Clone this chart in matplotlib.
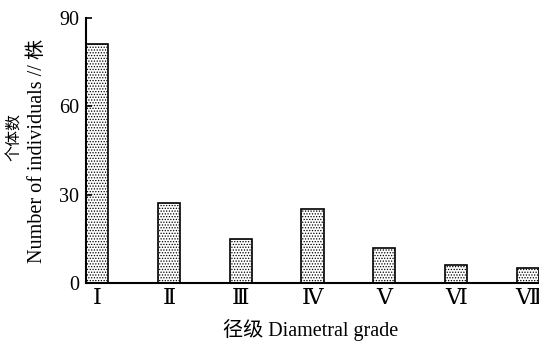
import matplotlib
matplotlib.use('Agg')
import matplotlib.pyplot as plt

# diameter classes and number of individuals
grades = ['\u2160', '\u2161', '\u2162', '\u2163', '\u2164', '\u2165', '\u2166']
counts = [81, 27, 15, 25, 12, 6, 5]
yticks = [0, 30, 60, 90]

plt.rcParams['hatch.linewidth'] = 0.6
plt.rcParams['hatch.color'] = '#555555'

serif = ['Liberation Serif', 'DejaVu Serif', 'Noto Sans CJK SC']
mixed = ['Liberation Serif', 'Noto Sans CJK SC']

fig = plt.figure(figsize=(5.39, 3.42), dpi=100)
ax = fig.add_axes([0.1596, 0.1725, 0.8404, 0.775])

x = range(len(counts))
ax.bar(x, counts, width=0.31, color='white', edgecolor='black',
       linewidth=1.2, hatch='......')

ax.set_xlim(-0.155, 6.155)
ax.set_ylim(0, 90)
ax.set_yticks(yticks)
ax.set_yticklabels([str(t) for t in yticks], family=serif, fontsize=14.5)
ax.set_xticks(list(x))
ax.set_xticklabels(grades, family=serif, fontsize=16)
ax.tick_params(axis='y', direction='in', length=4, width=1.2, pad=5)
ax.tick_params(axis='x', length=0, pad=5)

for s in ['top', 'right']:
    ax.spines[s].set_visible(False)
for s in ['left', 'bottom']:
    ax.spines[s].set_linewidth(1.5)

fig.text(0.577, 0.035, '径级 Diametral grade', family=mixed, fontsize=14.5,
         ha='center', va='center')
fig.text(0.028, 0.6, '个体数', family=mixed, fontsize=11.5,
         rotation=90, ha='center', va='center')
fig.text(0.07, 0.558, 'Number of individuals // 株', family=mixed,
         fontsize=14.5, rotation=90, ha='center', va='center')

fig.savefig('out.png', dpi=100)
